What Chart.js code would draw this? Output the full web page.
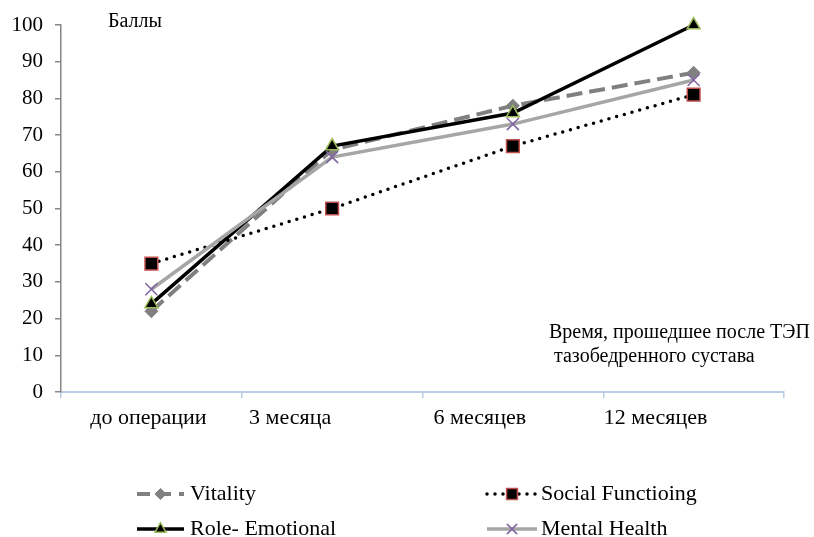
<!DOCTYPE html>
<html>
<head>
<meta charset="utf-8">
<script src="https://cdn.jsdelivr.net/npm/chart.js@4/dist/chart.umd.min.js"></script>
<style>
  html, body { margin: 0; padding: 0; background: #fff; }
  #wrap { width: 814px; height: 537px; position: relative; }
</style>
</head>
<body>
<div id="wrap"><canvas id="c" width="814" height="537"></canvas></div>
<script>
// Scores (баллы) by time since hip replacement
const categories = ['до операции', '3 месяца', '6 месяцев', '12 месяцев'];
const vitality = [22, 66, 78, 87];
const socialFunctioning = [35, 50, 67, 81];
const roleEmotional = [24, 67, 76, 100];
const mentalHealth = [28, 64, 73, 85];
const seriesNames = ['Vitality', 'Social Functioing', 'Role- Emotional', 'Mental Health'];
const yMin = 0, yMax = 100, yStep = 10;

// horizontal nudge of each category caption relative to its band centre
const labelShift = [-3, -42, -33, -38];

const FONT = '"Liberation Serif", "Times New Roman", serif';

const datasets = [
  {
    label: seriesNames[0], data: vitality, order: 4, clip: false,
    borderColor: '#808080', borderWidth: 4, borderDash: [16, 7],
    pointStyle: 'rectRot', pointRadius: 6.5,
    pointBackgroundColor: '#808080', pointBorderColor: '#808080', pointBorderWidth: 1
  },
  {
    label: seriesNames[1], data: socialFunctioning, order: 3, clip: false,
    borderColor: '#000000', borderWidth: 3.5, borderDash: [0, 8], borderCapStyle: 'round',
    pointStyle: 'rect', pointRadius: 9,
    pointBackgroundColor: '#000000', pointBorderColor: '#c0504d', pointBorderWidth: 1.5
  },
  {
    label: seriesNames[2], data: roleEmotional, order: 2, clip: false,
    borderColor: '#000000', borderWidth: 3.5,
    pointStyle: 'triangle', pointRadius: 7.5,
    pointBackgroundColor: '#000000', pointBorderColor: '#9bbb59', pointBorderWidth: 1.5
  },
  {
    label: seriesNames[3], data: mentalHealth, order: 1, clip: false,
    borderColor: '#a6a6a6', borderWidth: 3.5,
    pointStyle: 'crossRot', pointRadius: 8.5,
    pointBackgroundColor: '#8064a2', pointBorderColor: '#8064a2', pointBorderWidth: 1.5
  }
];

// Free-standing captions and a two-column legend drawn beneath the axes
const captions = [
  { text: 'Баллы', x: 108, y: 22 },
  { text: 'Время, прошедшее после ТЭП', x: 549, y: 333 },
  { text: ' тазобедренного сустава', x: 549, y: 357 }
];
const legendSlots = [
  { x: 137, y: 494, len: 47, textX: 190 }, { x: 487, y: 494, len: 50, textX: 541 },
  { x: 137, y: 529, len: 47, textX: 190 }, { x: 487, y: 529, len: 50, textX: 541 }
];
const categoryLabelY = 418;

const overlayPlugin = {
  id: 'overlay',
  afterDraw(chart) {
    const ctx = chart.ctx;
    ctx.save();
    ctx.fillStyle = '#000';
    ctx.textBaseline = 'middle';

    // category captions under the x axis, placed from the scale's tick pixels
    const xs = chart.scales.x;
    ctx.textAlign = 'center';
    ctx.font = '22px ' + FONT;
    chart.data.labels.forEach((lab, i) => {
      ctx.fillText(lab, xs.getPixelForTick(i) + (labelShift[i] || 0), categoryLabelY);
    });

    ctx.textAlign = 'left';
    ctx.font = '20px ' + FONT;
    captions.forEach(c => ctx.fillText(c.text, c.x, c.y));

    chart.data.datasets.forEach((ds, i) => {
      const slot = legendSlots[i];
      ctx.save();
      ctx.strokeStyle = ds.borderColor;
      ctx.lineWidth = ds.borderWidth;
      ctx.lineCap = ds.borderCapStyle || 'butt';
      if (ds.borderDash) {
        ctx.setLineDash(i === 0 ? [13, 8] : ds.borderDash);
        ctx.lineDashOffset = 0;
      }
      ctx.beginPath();
      ctx.moveTo(slot.x, slot.y);
      ctx.lineTo(slot.x + slot.len, slot.y);
      ctx.stroke();
      ctx.restore();

      ctx.save();
      ctx.fillStyle = ds.pointBackgroundColor;
      ctx.strokeStyle = ds.pointBorderColor;
      ctx.lineWidth = ds.pointBorderWidth;
      Chart.helpers.drawPoint(ctx, {
        pointStyle: ds.pointStyle, radius: ds.pointRadius * 0.85, rotation: 0, borderWidth: ds.pointBorderWidth
      }, slot.x + slot.len / 2, slot.y);
      ctx.restore();

      ctx.fillStyle = '#000';
      ctx.font = '22px ' + FONT;
      ctx.fillText(ds.label, slot.textX, slot.y);
    });
    ctx.restore();
  }
};

function build() {
  new Chart(document.getElementById('c'), {
    type: 'line',
    data: { labels: categories, datasets },
    plugins: [overlayPlugin],
    options: {
      responsive: false,
      animation: false,
      events: [],
      layout: { padding: { top: 25, right: 30, bottom: 0, left: 0 } },
      plugins: { legend: { display: false }, tooltip: { enabled: false } },
      elements: { line: { tension: 0, fill: false } },
      scales: {
        x: {
          type: 'category',
          offset: true,
          grid: { offset: true, drawOnChartArea: false, drawTicks: true, tickLength: 6, tickColor: '#b9cde5', lineWidth: 1.5 },
          border: { display: true, color: '#b9cde5', width: 2 },
          ticks: { display: false, autoSkip: false },
          afterFit(s) { s.height = 145; }
        },
        y: {
          min: yMin, max: yMax,
          grid: { drawOnChartArea: false, drawTicks: true, tickLength: 6, tickColor: '#868686', lineWidth: 1.5 },
          border: { display: true, color: '#868686', width: 1.5 },
          ticks: { stepSize: yStep, color: '#000', font: { family: FONT, size: 21 }, padding: 12 },
          afterFit(s) { s.width = 61; }
        }
      }
    }
  });
}

if (document.fonts && document.fonts.load) {
  document.fonts.load('21px "Liberation Serif"', 'Баллы Vitality 0123').then(build, build);
} else {
  build();
}
</script>
</body>
</html>
